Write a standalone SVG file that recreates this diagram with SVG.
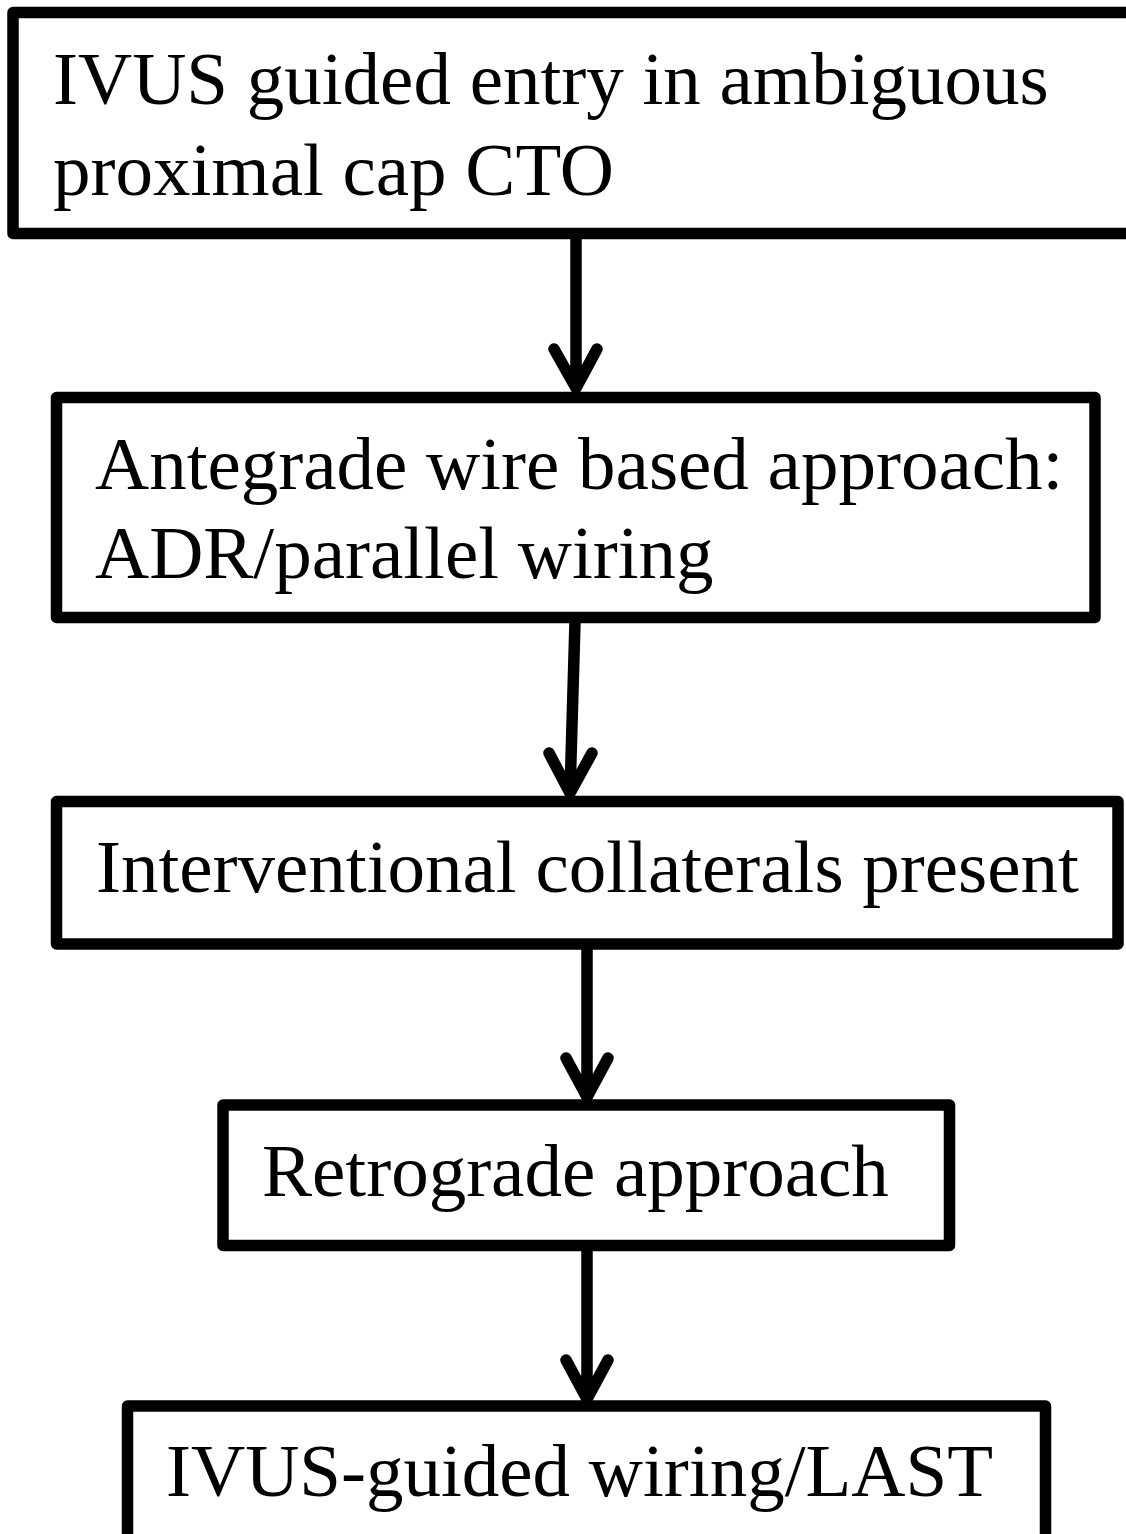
<svg xmlns="http://www.w3.org/2000/svg" width="1126" height="1534" viewBox="0 0 1126 1534">
<style>
.box{fill:#fff;stroke:#000;stroke-width:11.5;stroke-linejoin:round}
.t{font-family:"Liberation Serif","Times New Roman",serif;font-size:75px;fill:#000}
.c{fill:none;stroke:#000;stroke-width:11.5;stroke-linecap:round;stroke-linejoin:round}
</style>
<rect width="1126" height="1534" fill="#fff"/>
<g id="connectors">
<path class="c" d="M576 236V388M554 349L576 388L597 349"/>
<path class="c" d="M575 622L570 793M549 753L570 793L592 753"/>
<path class="c" d="M587 948V1097M566 1058L587 1097L608 1058"/>
<path class="c" d="M587 1251V1399M566 1360L587 1399L608 1360"/>
</g>
<g id="n1">
<rect class="box" x="13" y="12.5" width="1130" height="221"/>
<text class="t" x="53" y="104">IVUS guided entry in ambiguous</text>
<text class="t" x="53" y="195">proximal cap CTO</text>
</g>
<g id="n2">
<rect class="box" x="56.5" y="397.5" width="1038.5" height="220"/>
<text class="t" x="95" y="489">Antegrade wire based approach:</text>
<text class="t" x="95" y="578">ADR/parallel wiring</text>
</g>
<g id="n3">
<rect class="box" x="56.5" y="801.5" width="1061.5" height="142.5"/>
<text class="t" x="96" y="892">Interventional collaterals present</text>
</g>
<g id="n4">
<rect class="box" x="223" y="1105" width="726.5" height="140.5"/>
<text class="t" x="262" y="1196">Retrograde approach</text>
</g>
<g id="n5">
<rect class="box" x="127.5" y="1406" width="918" height="140"/>
<text class="t" x="166" y="1496">IVUS-guided wiring/LAST</text>
</g>
</svg>
